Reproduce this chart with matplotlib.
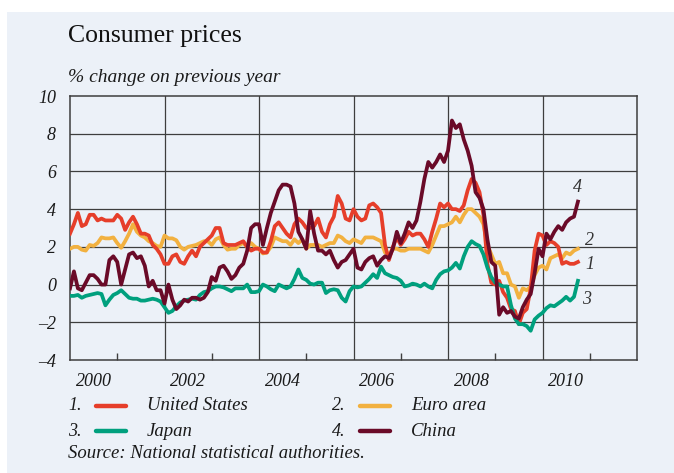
import matplotlib
matplotlib.use("Agg")
import matplotlib.pyplot as plt
from matplotlib.lines import Line2D
from matplotlib.patches import Rectangle
import numpy as np

# ---------------- data (monthly, Jan 2000 - Oct 2010) ----------------
us = [2.7, 3.2, 3.8, 3.1, 3.2, 3.7, 3.7, 3.4, 3.5, 3.4, 3.4, 3.4,
      3.7, 3.5, 2.9, 3.3, 3.6, 3.2, 2.7, 2.7, 2.6, 2.1, 1.9, 1.6,
      1.1, 1.1, 1.5, 1.6, 1.2, 1.1, 1.5, 1.8, 1.5, 2.0, 2.2, 2.4,
      2.6, 3.0, 3.0, 2.2, 2.1, 2.1, 2.1, 2.2, 2.3, 2.0, 1.8, 1.9,
      1.9, 1.7, 1.7, 2.3, 3.1, 3.3, 3.0, 2.7, 2.5, 3.2, 3.5, 3.3,
      3.0, 3.0, 3.1, 3.5, 2.8, 2.5, 3.2, 3.6, 4.7, 4.3, 3.5, 3.4,
      4.0, 3.6, 3.4, 3.5, 4.2, 4.3, 4.1, 3.8, 2.1, 1.3, 2.0, 2.5,
      2.1, 2.4, 2.8, 2.6, 2.7, 2.7, 2.4, 2.0, 2.8, 3.5, 4.3, 4.1,
      4.3, 4.0, 4.0, 3.9, 4.2, 5.0, 5.6, 5.4, 4.9, 3.7, 1.1, 0.1,
      0.0, 0.2, -0.4, -0.7, -1.3, -1.4, -2.1, -1.5, -1.3, -0.2, 1.8, 2.7,
      2.6, 2.1, 2.3, 2.2, 2.0, 1.1, 1.2, 1.1, 1.1, 1.2]

euro = [1.9, 2.0, 2.0, 1.85, 1.8, 2.1, 2.05, 2.2, 2.5, 2.45, 2.45, 2.5,
        2.2, 1.95, 2.3, 2.7, 3.2, 2.8, 2.6, 2.5, 2.3, 2.2, 2.05, 2.0,
        2.6, 2.45, 2.45, 2.35, 2.0, 1.85, 2.0, 2.05, 2.1, 2.2, 2.3, 2.3,
        2.1, 2.4, 2.5, 2.1, 1.85, 1.9, 1.9, 2.1, 2.2, 2.0, 2.2, 2.0,
        1.9, 1.65, 1.7, 2.0, 2.5, 2.4, 2.3, 2.3, 2.1, 2.4, 2.2, 2.4,
        1.9, 2.1, 2.1, 2.1, 2.0, 2.1, 2.2, 2.2, 2.6, 2.5, 2.3, 2.2,
        2.4, 2.3, 2.2, 2.5, 2.5, 2.5, 2.4, 2.3, 1.7, 1.6, 1.9, 1.9,
        1.8, 1.8, 1.9, 1.9, 1.9, 1.9, 1.8, 1.7, 2.1, 2.6, 3.1, 3.1,
        3.2, 3.3, 3.6, 3.3, 3.7, 4.0, 4.0, 3.8, 3.6, 3.2, 2.1, 1.6,
        1.1, 1.2, 0.6, 0.6, 0.0, -0.1, -0.7, -0.2, -0.3, -0.1, 0.5, 0.9,
        1.0, 0.8, 1.4, 1.5, 1.6, 1.4, 1.7, 1.6, 1.8, 1.9]

japan = [-0.6, -0.6, -0.55, -0.7, -0.6, -0.55, -0.5, -0.45, -0.5, -1.1, -0.8, -0.55,
         -0.45, -0.3, -0.5, -0.7, -0.75, -0.75, -0.85, -0.85, -0.8, -0.75, -0.8, -0.9,
         -1.2, -1.5, -1.4, -1.15, -0.95, -0.85, -0.8, -0.75, -0.8, -0.55, -0.4, -0.35,
         -0.2, -0.1, -0.1, -0.15, -0.25, -0.35, -0.2, -0.2, -0.2, 0.0, -0.4, -0.4,
         -0.35, 0.0, -0.1, -0.25, -0.35, 0.0, -0.1, -0.2, -0.1, 0.3, 0.8, 0.35,
         0.25, 0.05, 0.0, 0.1, 0.1, -0.45, -0.3, -0.25, -0.3, -0.7, -0.9, -0.35,
         -0.1, -0.15, -0.1, 0.1, 0.3, 0.55, 0.35, 0.95, 0.6, 0.5, 0.4, 0.35,
         0.2, -0.1, -0.05, 0.05, 0.0, -0.1, 0.05, -0.1, -0.2, 0.25, 0.55, 0.7,
         0.75, 0.9, 1.15, 0.85, 1.5, 2.0, 2.3, 2.15, 2.05, 1.6, 0.9, 0.4,
         0.1, 0.0, -0.1, -0.1, -1.1, -1.8, -2.1, -2.1, -2.2, -2.45, -1.85, -1.65,
         -1.5, -1.25, -1.1, -1.15, -1.0, -0.85, -0.65, -0.85, -0.65, 0.2]

china = [-0.2, 0.7, -0.2, -0.3, 0.1, 0.5, 0.5, 0.3, 0.0, 0.0, 1.3, 1.5,
         1.2, 0.0, 0.8, 1.6, 1.7, 1.4, 1.5, 1.0, -0.1, 0.2, -0.3, -0.3,
         -1.0, 0.0, -0.8, -1.3, -1.1, -0.8, -0.9, -0.7, -0.7, -0.8, -0.7, -0.4,
         0.4, 0.2, 0.9, 1.0, 0.7, 0.3, 0.5, 0.9, 1.1, 1.8, 3.0, 3.2,
         3.2, 2.1, 3.0, 3.8, 4.4, 5.0, 5.3, 5.3, 5.2, 4.3, 2.8, 2.4,
         1.9, 3.9, 2.7, 1.8, 1.8, 1.6, 1.8, 1.3, 0.9, 1.2, 1.3, 1.6,
         1.9, 0.9, 0.8, 1.2, 1.4, 1.5, 1.0, 1.3, 1.5, 1.4, 1.9, 2.8,
         2.2, 2.7, 3.3, 3.0, 3.4, 4.4, 5.6, 6.5, 6.2, 6.5, 6.9, 6.5,
         7.1, 8.7, 8.3, 8.5, 7.7, 7.1, 6.3, 4.9, 4.6, 4.0, 2.4, 1.2,
         1.0, -1.6, -1.2, -1.5, -1.4, -1.7, -1.8, -1.2, -0.8, -0.5, 0.6, 1.9,
         1.5, 2.7, 2.4, 2.8, 3.1, 2.9, 3.3, 3.5, 3.6, 4.4]

series_names = ["United States", "Euro area", "Japan", "China"]
series_nums = ["1", "2", "3", "4"]
year_labels = ["2000", "2002", "2004", "2006", "2008", "2010"]
y_ticks = [-4, -2, 0, 2, 4, 6, 8, 10]

colors = {"us": "#E63E2A", "euro": "#F2B140", "japan": "#00A07E", "china": "#6A0A28"}
BG = "#ECF1F8"
GRID = "#3E3E3E"
TXT = "#1a1a1a"

t = 2000 + np.arange(len(us)) / 12.0

FONT = "Liberation Serif"
plt.rcParams["font.family"] = [FONT, "DejaVu Serif"]

fig = plt.figure(figsize=(6.74, 4.73), dpi=100)
fig.patch.set_facecolor("white")
W, H = 674, 473
fig.add_artist(Rectangle((7 / W, 0), 1, 1 - 12 / H, transform=fig.transFigure,
                         facecolor=BG, edgecolor="none", zorder=-10))

ax = fig.add_axes([70 / W, 1 - 360 / H, (637 - 70) / W, (360 - 96) / H])
ax.set_facecolor(BG)
ax.set_xlim(2000, 2012)
ax.set_ylim(-4, 10)

for y in y_ticks[1:-1]:
    ax.axhline(y, color=GRID, lw=0.9, zorder=1)
for x in range(2002, 2012, 2):
    ax.axvline(x, color=GRID, lw=0.9, zorder=1)

lw = 2.7
ax.plot(t, euro, color=colors["euro"], lw=lw, zorder=3, solid_joinstyle="round")
ax.plot(t, us, color=colors["us"], lw=lw, zorder=4, solid_joinstyle="round")
ax.plot(t, japan, color=colors["japan"], lw=lw, zorder=5, solid_joinstyle="round")
ax.plot(t, china, color=colors["china"], lw=lw, zorder=6, solid_joinstyle="round")

for s in ax.spines.values():
    s.set_color(GRID)
    s.set_linewidth(1.1)

ax.set_yticks(y_ticks)
ax.set_yticklabels([str(v).replace("-", "\u2013") for v in y_ticks],
                   fontstyle="italic", fontsize=13, color=TXT)
ax.tick_params(axis="y", length=0, pad=10)

ax.set_xticks([int(l) + 0.5 for l in year_labels])
ax.set_xticklabels(year_labels, fontstyle="italic", fontsize=13, color=TXT)
ax.set_xticks(list(range(2001, 2012, 2)), minor=True)
ax.tick_params(axis="x", which="major", length=0, pad=9)
ax.tick_params(axis="x", which="minor", direction="in", length=5, width=1.0, color=GRID)

# end labels
last = len(us) - 1
ax.annotate(series_nums[3], (t[last], china[last]), xytext=(0, 4), textcoords="offset points",
            ha="center", va="bottom", fontsize=13, fontstyle="italic", color="#333333")
ax.annotate(series_nums[1], (t[last], euro[last]), xytext=(5, 0), textcoords="offset points",
            ha="left", va="bottom", fontsize=13, fontstyle="italic", color="#333333")
ax.annotate(series_nums[0], (t[last], us[last]), xytext=(5, -2), textcoords="offset points",
            ha="left", va="center", fontsize=13, fontstyle="italic", color="#333333")
ax.annotate(series_nums[2], (t[last], japan[last]), xytext=(3, -7), textcoords="offset points",
            ha="left", va="top", fontsize=13, fontstyle="italic", color="#333333")

# title and subtitle
fig.text(68 / W, 1 - 36 / H, "Consumer prices", fontsize=18.5, color="#111111",
         ha="left", va="center")
fig.text(68 / W, 1 - 77 / H, "% change on previous year", fontsize=14,
         fontstyle="italic", color=TXT, ha="left", va="center")

# legend
leg = [("1.", colors["us"], series_names[0], 68, 406),
       ("2.", colors["euro"], series_names[1], 332, 406),
       ("3.", colors["japan"], series_names[2], 68, 431),
       ("4.", colors["china"], series_names[3], 332, 431)]
for num, col, name, x0, y0 in leg:
    fig.text(x0 / W, 1 - y0 / H, num, fontsize=13, fontstyle="italic",
             color=TXT, ha="left", va="center")
    fig.add_artist(Line2D([(x0 + 28) / W, (x0 + 58) / W], [1 - y0 / H, 1 - y0 / H],
                          transform=fig.transFigure, color=col, lw=3.2,
                          solid_capstyle="round"))
    fig.text((x0 + 79) / W, 1 - y0 / H, name, fontsize=13.5, fontstyle="italic",
             color=TXT, ha="left", va="center")

fig.text(68 / W, 1 - 453 / H, "Source: National statistical authorities.", fontsize=13.5,
         fontstyle="italic", color=TXT, ha="left", va="center")

fig.savefig("out.png", dpi=100, facecolor=fig.get_facecolor())
